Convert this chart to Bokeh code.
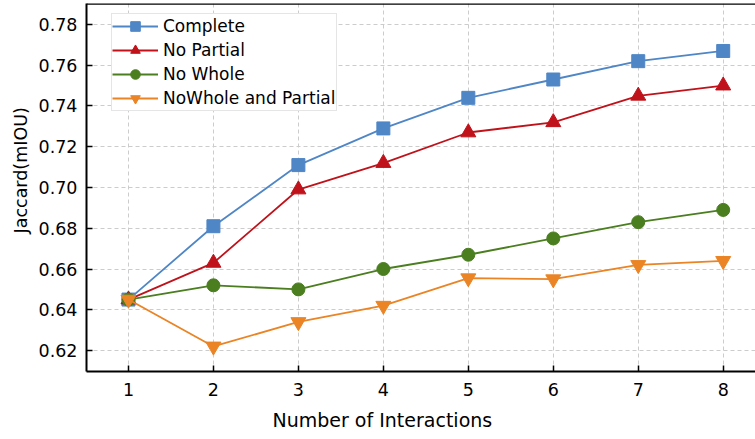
from bokeh.plotting import figure
from bokeh.models import FixedTicker, NumeralTickFormatter, Legend, LegendItem, Span, Range1d, Title
from bokeh.embed import file_html
from bokeh.resources import INLINE

interactions = [1, 2, 3, 4, 5, 6, 7, 8]
complete = [0.645, 0.681, 0.711, 0.729, 0.744, 0.753, 0.762, 0.767]
no_partial = [0.645, 0.663, 0.699, 0.712, 0.727, 0.732, 0.745, 0.750]
no_whole = [0.645, 0.652, 0.650, 0.660, 0.667, 0.675, 0.683, 0.689]
no_whole_partial = [0.645, 0.622, 0.634, 0.642, 0.6555, 0.655, 0.662, 0.664]
y_ticks = [0.62, 0.64, 0.66, 0.68, 0.70, 0.72, 0.74, 0.76, 0.78]
x_ticks = [1, 2, 3, 4, 5, 6, 7, 8]

FONT = "DejaVu Sans"
Y0, Y1 = 0.6097, 0.7903

p = figure(width=755, height=439, output_backend="svg", toolbar_location=None,
           x_range=Range1d(0.506, 8.38), y_range=Range1d(Y0, Y1),
           min_border_left=86, min_border_right=0, min_border_top=3, min_border_bottom=68)
p.outline_line_color = None
p.background_fill_color = "white"
p.border_fill_color = "white"

for ax in (p.xaxis[0], p.yaxis[0]):
    ax.axis_line_color = "black"
    ax.axis_line_width = 2
    ax.major_tick_in = 6
    ax.major_tick_out = 0
    ax.major_tick_line_color = "black"
    ax.major_tick_line_width = 1.5
    ax.minor_tick_line_color = None
    ax.major_label_text_font = FONT
    ax.major_label_text_font_size = "17.5px"
    ax.major_label_text_color = "black"

p.xaxis.ticker = FixedTicker(ticks=x_ticks)
p.yaxis.ticker = FixedTicker(ticks=y_ticks)
p.yaxis.formatter = NumeralTickFormatter(format="0.00")
p.xaxis.major_label_standoff = 11
p.yaxis.major_label_standoff = 9

xtitle = Title(text="Number of Interactions", align="left", offset=186,
               text_font=FONT, text_font_size="19px", text_font_style="normal",
               text_color="black", standoff=16)
p.add_layout(xtitle, "below")
ytitle = Title(text="Jaccard(mIOU)", align="left", offset=138,
               text_font=FONT, text_font_size="17.5px", text_font_style="normal",
               text_color="black", standoff=9)
p.add_layout(ytitle, "left")

for g in (p.xgrid[0], p.ygrid[0]):
    g.grid_line_color = "#cccccc"
    g.grid_line_dash = "4 3"
    g.grid_line_width = 1
p.xgrid.ticker = FixedTicker(ticks=x_ticks)
p.ygrid.ticker = FixedTicker(ticks=y_ticks)

p.add_layout(Span(location=Y1, dimension="width", line_color="black", line_width=2.5))

series = [
    ("Complete", complete, "#4F86C6", "square", 13),
    ("No Partial", no_partial, "#C0121A", "triangle", 15),
    ("No Whole", no_whole, "#4A7E1F", "circle", 13),
    ("NoWhole and Partial", no_whole_partial, "#EA8425", "inverted_triangle", 15),
]
items = []
for name, ys, col, mk, sz in series:
    l = p.line(interactions, ys, line_color=col, line_width=1.8)
    s = p.scatter(interactions, ys, marker=mk, size=sz, fill_color=col, line_color=col)
    items.append(LegendItem(label=name, renderers=[l, s]))

legend = Legend(items=items, location=(25, 260))
legend.label_text_font = FONT
legend.label_text_font_size = "17px"
legend.label_text_color = "black"
legend.glyph_width = 46
legend.glyph_height = 24
legend.label_height = 24
legend.spacing = 0
legend.padding = 0
legend.margin = 0
legend.label_standoff = 5
legend.border_line_color = "#cccccc"
legend.border_line_width = 1.5
legend.background_fill_alpha = 1
p.add_layout(legend)

open("out.html", "w").write(file_html(p, INLINE))
